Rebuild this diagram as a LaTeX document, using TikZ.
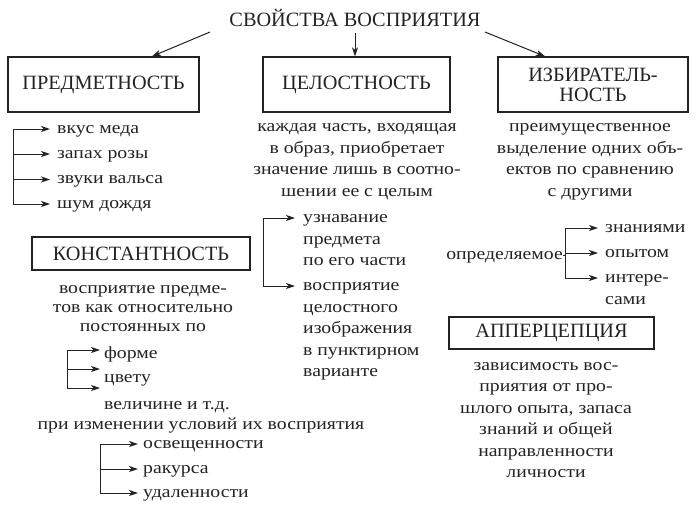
\documentclass[tikz,border=0pt]{standalone}
\usepackage{fontspec}
\setmainfont{Liberation Serif}
\newfontfamily\bodyfam{Liberation Serif}[FakeStretch=1.16]
\usetikzlibrary{arrows.meta}
\definecolor{ink}{RGB}{35,35,35}
\newcommand\bodyfont{\bodyfam\fontsize{17}{21.5}\selectfont}
\newcommand\bodyfontb{\bodyfam\fontsize{17}{19}\selectfont}
\newcommand\capfont{\fontsize{20.3}{20}\selectfont}
\begin{document}
\begin{tikzpicture}[x=1pt,y=-1pt,
  every node/.style={text=ink},
  box/.style={draw=ink, line width=1.3pt, font=\capfont, align=center, inner sep=0},
  arr/.style={draw=ink, line width=1pt, -{Stealth[length=9pt,width=6pt,inset=2.5pt]}},
  ln/.style={draw=ink, line width=1pt},
  item/.style={anchor=west, inner sep=0, font=\bodyfont, align=left},
  para/.style={inner sep=0, font=\bodyfont, align=center}]

\useasboundingbox[fill=white] (0,0) rectangle (700,512);

% title
\node[font=\capfont, inner sep=0, anchor=base] (title) at (355,26.5) {СВОЙСТВА ВОСПРИЯТИЯ};

% boxes
\node[box, minimum width=191pt, minimum height=55pt] (pred) at (103.5,84.5) {ПРЕДМЕТНОСТЬ};
\node[box, minimum width=187pt, minimum height=55pt] (cel) at (356.5,84.5) {ЦЕЛОСТНОСТЬ};
\node[box, minimum width=190pt, minimum height=55pt] (izb) at (593,84.5) {ИЗБИРАТЕЛЬ-\\НОСТЬ};
\node[box, minimum width=218pt, minimum height=33pt] (kon) at (141,253.5) {КОНСТАНТНОСТЬ};
\node[box, minimum width=205pt, minimum height=32pt] (app) at (551.5,333) {АППЕРЦЕПЦИЯ};

% arrows from title
\coordinate (t1) at (210,32);
\coordinate (t2) at (355,33);
\coordinate (t3) at (485,32);
\draw[arr] (t1) -- ([xshift=48.5pt]pred.north);
\draw[arr] (t2) -- (t2 |- cel.north);
\draw[arr] (t3) -- ([xshift=-48pt]izb.north);

% predmetnost list
\node[item] (p1) at (57,129) {\strut вкус меда};
\node[item] (p2) at (57,154) {\strut запах розы};
\node[item] (p3) at (57,179.5) {\strut звуки вальса};
\node[item] (p4) at (57,204) {\strut шум дождя};
\coordinate (pb) at (13,0);
\draw[ln] (pb |- p1.west) -- (pb |- p4.west);
\foreach \n in {p1,p2,p3,p4} \draw[arr, shorten >=7pt] (pb |- \n.west) -- (\n.west);

% celostnost
\node[para] (celt) at (357,159.5) {\strut каждая часть, входящая\\в образ, приобретает\\значение лишь в соотно-\\шении ее с целым\strut};
\node[item] (c1) at (303,218) {\strut узнавание};
\node[item, anchor=north west] (c1b) at (c1.south west) {\strut предмета\\по его части\strut};
\node[item] (c2) at (303,286) {\strut восприятие};
\node[item, anchor=north west] (c2b) at (c2.south west) {\strut целостного\\изображения\\в пунктирном\\варианте\strut};
\coordinate (cb) at (263,0);
\draw[ln] (cb |- c1.west) -- (cb |- c2.west);
\foreach \n in {c1,c2} \draw[arr, shorten >=8pt] (cb |- \n.west) -- (\n.west);

% izbiratelnost
\node[para] (izbt) at (590,159.5) {\strut преимущественное\\выделение одних объ-\\ектов по сравнению\\с другими\strut};
\node[item, anchor=east] (opr) at (563,255) {\strut определяемое};
\node[item] (o1) at (605,228) {\strut знаниями};
\node[item] (o2) at (605,253) {\strut опытом};
\node[item] (o3) at (605,278) {\strut интере-};
\node[item, anchor=north west] (o3b) at (o3.south west) {\strut сами};
\coordinate (ob) at (565,0);
\draw[ln] (ob |- o1.west) -- (ob |- o3.west);
\draw[ln] (opr.east) -- (ob |- opr.east);
\foreach \n in {o1,o2,o3} \draw[arr, shorten >=7pt] (ob |- \n.west) -- (\n.west);

% apperception
\node[para] (appt) at (546,419.5) {\strut зависимость вос-\\приятия от про-\\шлого опыта, запаса\\знаний и общей\\направленности\\личности\strut};

% konstantnost
\node[para, font=\bodyfontb] (kont) at (143,309) {\strut восприятие предме-\\тов как относительно\\постоянных по\strut};
\node[item] (k1) at (104,354) {\strut форме};
\node[item] (k2) at (104,378) {\strut цвету};
\node[item] (k3) at (104,405) {\strut величине и т.д.};
\coordinate (ka1) at (100,350);
\coordinate (ka2) at (100,369);
\coordinate (ka3) at (100,388);
\coordinate (kb) at (67,0);
\draw[ln] (kb |- ka1) -- (kb |- ka3);
\foreach \n in {ka1,ka2,ka3} \draw[arr] (kb |- \n) -- (\n);

\node[para] (pri) at (201,425) {\strut при изменении условий их восприятия\strut};
\node[item] (u1) at (143,444) {\strut освещенности};
\node[item] (u2) at (143,469) {\strut ракурса};
\node[item] (u3) at (143,493) {\strut удаленности};
\coordinate (ub) at (100,0);
\draw[ln] (ub |- u1.west) -- (ub |- u3.west);
\foreach \n in {u1,u2,u3} \draw[arr, shorten >=5pt] (ub |- \n.west) -- (\n.west);
\end{tikzpicture}
\end{document}
